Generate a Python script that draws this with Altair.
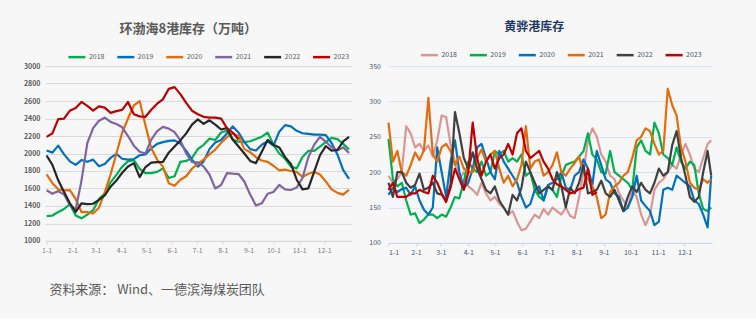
import altair as alt
import pandas as pd

FONT = "Noto Sans CJK SC"
BG = "#F7F7F7"

years = ["2018", "2019", "2020", "2021", "2022", "2023"]
month_days = [0, 31, 59, 90, 120, 151, 181, 212, 243, 273, 304, 334]
month_labels = ["1-1", "2-1", "3-1", "4-1", "5-1", "6-1", "7-1", "8-1", "9-1", "10-1", "11-1", "12-1"]

# ---------------- left panel: 环渤海8港库存 (weekly readings, day of year) ----------------
left_days = list(range(0, 365, 7))
bohai_2018 = [1284, 1290, 1330, 1365, 1420, 1290, 1258, 1300, 1352, 1480,
              1545, 1670, 1755, 1850, 1910, 1925, 1825, 1775, 1776, 1790,
              1830, 1720, 1740, 1905, 1915, 1950, 2050, 2100, 2170, 2155,
              2240, 2260, 2160, 2135, 2130, 2140, 2165, 2193, 2240, 2100,
              2000, 1940, 1850, 1830, 1960, 2030, 2030, 2080, 2130, 2178,
              2165, 2110, 2045]
bohai_2019 = [2034, 2010, 2090, 1990, 1910, 1870, 1925, 1905, 1930, 1855,
              1880, 1950, 1995, 1940, 1930, 1935, 1980, 1990, 2060, 2110,
              2130, 2145, 2150, 2115, 2030, 1930, 1850, 1910, 2050, 2125,
              2155, 2230, 2310, 2240, 2130, 2050, 2034, 2100, 2140, 2090,
              2250, 2325, 2310, 2260, 2232, 2225, 2217, 2215, 2210, 2120,
              1990, 1810, 1710]
bohai_2020 = [1761, 1660, 1590, 1578, 1580, 1480, 1330, 1330, 1314, 1380,
              1555, 1760, 2000, 2240, 2400, 2550, 2600, 2320, 2060, 1930,
              1850, 1660, 1630, 1700, 1740, 1826, 1885, 1930, 1990, 2045,
              2120, 2186, 2230, 2200, 2050, 2015, 1958, 1920, 1905, 1860,
              1808, 1815, 1800, 1790, 1731, 1769, 1788, 1760, 1680, 1590,
              1549, 1530, 1585]
bohai_2021 = [1580, 1540, 1570, 1530, 1410, 1360, 1690, 2120, 2290, 2375,
              2410, 2362, 2337, 2300, 2200, 2090, 2020, 2000, 2160, 2255,
              2305, 2285, 2245, 2150, 2000, 1900, 1900, 1850, 1760, 1600,
              1640, 1775, 1769, 1765, 1680, 1530, 1405, 1430, 1540, 1560,
              1640, 1590, 1582, 1610, 1720, 1958, 2100, 2190, 2135, 2072,
              2034, 2070, 2005]
bohai_2022 = [1977, 1870, 1693, 1560, 1430, 1333, 1430, 1420, 1425, 1470,
              1520, 1620, 1690, 1780, 1852, 1890, 1730, 1845, 1895, 1902,
              1905, 2010, 2080, 2150, 2230, 2330, 2390, 2340, 2380, 2330,
              2275, 2290, 2160, 2080, 2000, 1915, 1890, 2020, 2155, 2100,
              2070, 1958, 1880, 1700, 1590, 1600, 1790, 1980, 2085, 2034,
              2040, 2140, 2190]
bohai_2023 = [2190, 2230, 2394, 2400, 2490, 2520, 2590, 2545, 2490, 2540,
              2525, 2465, 2485, 2500, 2590, 2450, 2425, 2420, 2500, 2570,
              2620, 2740, 2760, 2680, 2580, 2490, 2450, 2420, 2410, 2410,
              2400, 2290, 2240, 2160]
left_colors = ["#00B050", "#0070C0", "#E46C0A", "#8064A2", "#262626", "#C00000"]

# ---------------- right panel: 黄骅港库存 (5-day readings, day of year) ----------------
right_days = list(range(0, 361, 5)) + [364]
hh_2018 = [195, 185, 190, 200, 265, 255, 235, 240, 230, 238,
           222, 245, 280, 278, 240, 215, 190, 200, 180, 175,
           168, 185, 170, 160, 165, 155, 150, 140, 145, 130,
           118, 120, 130, 140, 135, 148, 140, 150, 145, 140,
           150, 138, 135, 165, 200, 245, 262, 250, 225, 215,
           195, 190, 170, 160, 150, 175, 165, 140, 125, 140,
           175, 185, 190, 200, 210, 205, 225, 240, 225, 205,
           200, 220, 240, 245]
hh_2019 = [247, 190, 180, 185, 160, 140, 142, 128, 133, 140,
           140, 135, 140, 137, 150, 165, 163, 187, 215, 205,
           200, 215, 195, 200, 230, 225, 230, 215, 220, 215,
           225, 195, 200, 175, 165, 160, 180, 175, 165, 195,
           210, 213, 215, 222, 230, 255, 225, 218, 200, 198,
           230, 200, 195, 190, 185, 175, 235, 245, 230, 225,
           270, 255, 225, 220, 210, 235, 215, 205, 215, 210,
           170, 148, 145, 150]
hh_2020 = [168, 178, 172, 176, 178, 168, 180, 160, 147, 140,
           150, 235, 200, 165, 215, 245, 200, 178, 185, 205,
           235, 240, 220, 200, 190, 230, 215, 205, 195, 185,
           165, 150, 155, 175, 180, 160, 182, 185, 190, 200,
           178, 175, 195, 200, 218, 205, 182, 230, 210, 190,
           185, 170, 165, 145, 150, 165, 195, 160, 152, 145,
           125, 130, 175, 178, 175, 195, 190, 185, 180, 160,
           155, 140, 122, 195]
hh_2021 = [270, 215, 230, 200, 195, 210, 228, 217, 231, 305,
           225, 215, 235, 240, 230, 210, 222, 205, 200, 200,
           220, 232, 215, 225, 230, 205, 185, 195, 180, 190,
           210, 265, 205, 215, 218, 195, 200, 210, 228, 200,
           195, 205, 213, 222, 200, 190, 180, 165, 135, 140,
           172, 180, 185, 195, 200, 220, 245, 250, 262, 258,
           240, 225, 230, 318, 295, 280, 235, 215, 185, 178,
           175, 190, 185, 190]
hh_2022 = [185, 165, 200, 200, 185, 178, 182, 198, 175, 178,
           185, 170, 168, 160, 182, 285, 255, 220, 205, 228,
           205, 190, 175, 170, 180, 160, 150, 140, 168, 160,
           178, 215, 200, 185, 170, 175, 180, 175, 200, 180,
           150, 178, 170, 185, 210, 170, 172, 175, 188, 170,
           165, 175, 160, 145, 165, 180, 172, 185, 175, 170,
           185, 205, 195, 200, 238, 258, 220, 195, 165, 158,
           165, 200, 230, 195]
hh_2023 = [175, 185, 165, 165, 165, 170, 170, 175, 172, 170,
           195, 185, 170, 158, 178, 205, 190, 175, 200, 270,
           220, 195, 215, 225, 205, 220, 225, 240, 225, 255,
           262, 230, 220, 225, 230, 215, 205, 190, 183, 180,
           175, 170, 172, 176, 178, 205, 168, 172]
right_colors = ["#D99694", "#00B050", "#0070C0", "#E46C0A", "#404040", "#C00000"]


def to_frame(days, series):
    rows = []
    for year, vals in zip(years, series):
        for d, v in zip(days, vals):
            rows.append({"year": year, "day": d, "value": v})
    return pd.DataFrame(rows)


left_df = to_frame(left_days, [bohai_2018, bohai_2019, bohai_2020, bohai_2021, bohai_2022, bohai_2023])
right_df = to_frame(right_days, [hh_2018, hh_2019, hh_2020, hh_2021, hh_2022, hh_2023])

label_expr = "''"
for d, lab in reversed(list(zip(month_days, month_labels))):
    label_expr = f"datum.value == {d} ? '{lab}' : ({label_expr})"


def legend(x, y, color):
    return alt.Legend(
        orient="none", legendX=x, legendY=y, direction="horizontal", title=None,
        symbolType="stroke", symbolSize=289, symbolStrokeWidth=2.5,
        labelFontSize=7, labelColor=color, labelFont=FONT,
        columnPadding=7, labelOffset=2, padding=0,
    )


left = alt.Chart(left_df).mark_line(strokeWidth=2.2, strokeJoin="round").encode(
    x=alt.X("day:Q", scale=alt.Scale(domain=[-2, 367], nice=False, zero=False),
            axis=alt.Axis(values=month_days, labelExpr=label_expr, title=None, grid=False,
                          domainColor="#D9D9D9", tickColor="#D9D9D9", tickSize=3,
                          labelFontSize=7, labelColor="#7F7F7F", labelFont=FONT, labelPadding=3)),
    y=alt.Y("value:Q", scale=alt.Scale(domain=[1000, 3000], nice=False, zero=False),
            axis=alt.Axis(values=list(range(1000, 3001, 200)), format="d", title=None,
                          domain=False, ticks=False,
                          gridColor="#D9D9D9", labelFontSize=7, labelColor="#595959",
                          labelFontWeight="bold", labelFont=FONT, labelPadding=5)),
    color=alt.Color("year:N", scale=alt.Scale(domain=years, range=left_colors),
                    legend=legend(22, -19, "#595959")),
).properties(
    width=307, height=175,
    title=alt.TitleParams("环渤海8港库存（万吨）", font=FONT, fontSize=13, fontWeight="bold",
                          color="#595959", anchor="middle", frame="group", dx=-10, offset=11),
)

right = alt.Chart(right_df).mark_line(strokeWidth=2.2, strokeJoin="round").encode(
    x=alt.X("day:Q", scale=alt.Scale(domain=[0, 365], nice=False, zero=False),
            axis=alt.Axis(values=month_days, labelExpr=label_expr, title=None, grid=False,
                          domainColor="#C9D6EA", tickColor="#C9D6EA", tickSize=3,
                          labelFontSize=7, labelColor="#44546A", labelFont=FONT, labelPadding=3)),
    y=alt.Y("value:Q", scale=alt.Scale(domain=[100, 350], nice=False, zero=False),
            axis=alt.Axis(values=list(range(100, 351, 50)), format="d", title=None,
                          domain=False, ticks=False,
                          gridColor="#D9E2F2", labelFontSize=7, labelColor="#44546A",
                          labelFont=FONT, labelPadding=8)),
    color=alt.Color("year:N", scale=alt.Scale(domain=years, range=right_colors),
                    legend=legend(31, -21, "#44546A")),
).properties(
    width=324, height=177,
    title=alt.TitleParams("黄骅港库存", font=FONT, fontSize=12, fontWeight="bold",
                          color="#1F3864", anchor="middle", frame="group", dx=-16, offset=11),
)

chart = alt.hconcat(left, right, spacing=37, bounds="flush").resolve_scale(
    color="independent"
).resolve_legend(color="independent").properties(
    title=alt.TitleParams("资料来源： Wind、一德滨海煤炭团队", font=FONT, fontSize=13,
                          fontWeight="normal", color="#595959", orient="bottom",
                          anchor="start", frame="bounds", dx=26, offset=28),
).configure(
    background=BG, font=FONT,
    padding={"left": 23, "top": 21, "right": 43, "bottom": 21},
).configure_view(stroke=None)

chart.save("out.html", embed_options={"renderer": "svg", "actions": False})
